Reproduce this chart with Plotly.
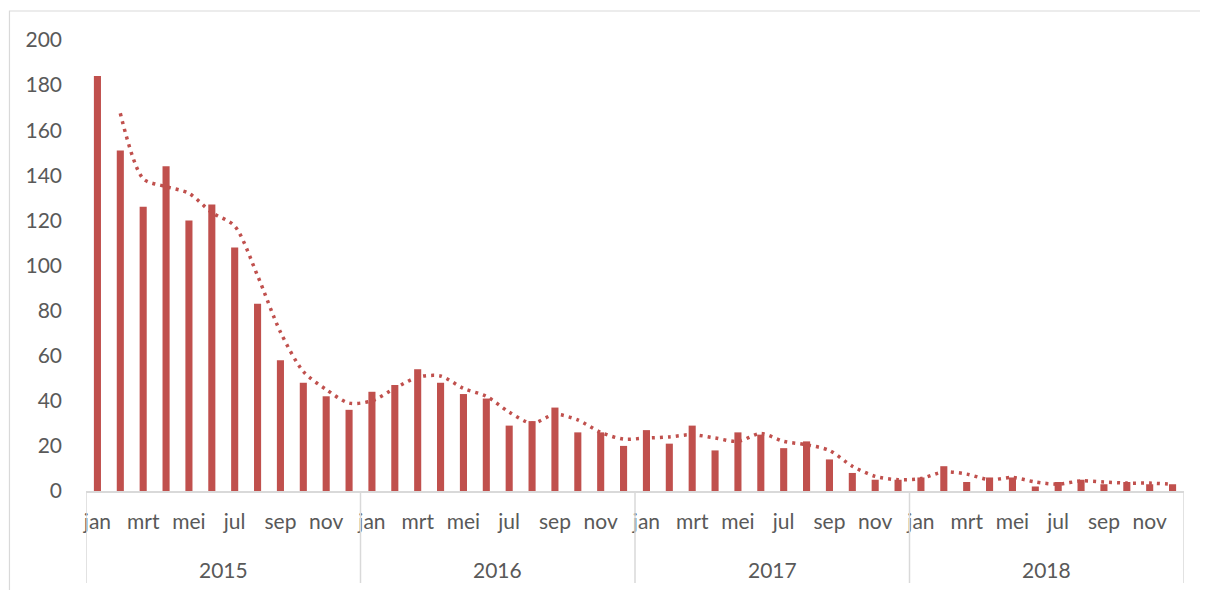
import plotly.graph_objects as go

years = ["2015", "2016", "2017", "2018"]
months = ["jan", "feb", "mrt", "apr", "mei", "jun", "jul", "aug", "sep", "okt", "nov", "dec"]

values_2015 = [184, 151, 126, 144, 120, 127, 108, 83, 58, 48, 42, 36]
values_2016 = [44, 47, 54, 48, 43, 41, 29, 31, 37, 26, 26, 20]
values_2017 = [27, 21, 29, 18, 26, 25, 19, 22, 14, 8, 5, 5]
values_2018 = [6, 11, 4, 6, 6, 2, 4, 5, 3, 4, 3, 3]

y_ticks = [0, 20, 40, 60, 80, 100, 120, 140, 160, 180, 200]

values = values_2015 + values_2016 + values_2017 + values_2018
n = len(values)
xs = list(range(n))

# 2-period moving average trendline (as in the source chart)
ma_x = xs[1:]
ma_y = [(values[i - 1] + values[i]) / 2 for i in range(1, n)]

RED = "#C0504D"
GRID = "#D9D9D9"
TXT = "#595959"
FONT = "Lato"

fig = go.Figure()
fig.add_trace(go.Bar(x=xs, y=values, marker=dict(color=RED, line=dict(width=0)),
                     hoverinfo="y"))
fig.add_trace(go.Scatter(x=ma_x, y=ma_y, mode="lines",
                         line=dict(color=RED, width=3.5, dash="3px,5px", shape="spline", smoothing=0.8),
                         hoverinfo="skip"))

tickvals = [i for i in xs if i % 2 == 0]
ticktext = [months[i % 12] for i in tickvals]

shapes = []
# year separators
for k in range(len(years) + 1):
    shapes.append(dict(type="line", xref="x", yref="paper", x0=k * 12 - 0.5, x1=k * 12 - 0.5,
                       y0=0, y1=-0.204, line=dict(color=GRID, width=1.5)))
# outer chart border
shapes.append(dict(type="rect", xref="paper", yref="paper", x0=-0.0697, x1=1.05, y0=-0.3, y1=1.0643,
                   line=dict(color=GRID, width=1.2), layer="below"))

annotations = []
for k, yr in enumerate(years):
    annotations.append(dict(x=k * 12 + 5.5, y=-0.173, xref="x", yref="paper", text=yr,
                            showarrow=False, yanchor="middle",
                            font=dict(family=FONT, size=21, color=TXT)))

fig.update_layout(
    width=1200, height=582,
    margin=dict(l=78, r=24, t=32, b=99),
    paper_bgcolor="white", plot_bgcolor="white",
    showlegend=False,
    bargap=0.69,
    font=dict(family=FONT, size=21, color=TXT),
    shapes=shapes,
    annotations=annotations,
    xaxis=dict(range=[-0.5, n - 0.5], tickvals=tickvals, ticktext=ticktext,
               showgrid=False, zeroline=False, showline=True, linecolor=GRID, linewidth=1.5,
               ticks="", ticklabelstandoff=11, tickfont=dict(family=FONT, size=21, color=TXT),
               fixedrange=True),
    yaxis=dict(range=[0, 200], tickvals=y_ticks, showgrid=False, zeroline=False, showline=False,
               ticks="", ticklabelstandoff=23, tickfont=dict(family=FONT, size=21, color=TXT),
               fixedrange=True),
)

fig.write_html("out.html")
